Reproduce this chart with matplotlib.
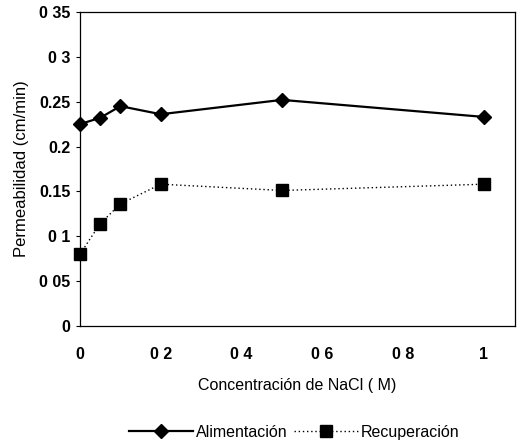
import matplotlib.pyplot as plt

plt.rcParams["font.family"] = ["Liberation Sans", "DejaVu Sans"]

nacl = [0, 0.05, 0.1, 0.2, 0.5, 1.0]
alimentacion = [0.225, 0.232, 0.245, 0.236, 0.252, 0.233]
recuperacion = [0.080, 0.114, 0.136, 0.158, 0.151, 0.158]

yticks = [0, 0.05, 0.1, 0.15, 0.2, 0.25, 0.3, 0.35]
ytick_labels = ["0", "0 05", "0 1", "0.15", "0.2", "0.25", "0 3", "0 35"]
xticks = [0, 0.2, 0.4, 0.6, 0.8, 1.0]
xtick_labels = ["0", "0 2", "0 4", "0 6", "0 8", "1"]

fig = plt.figure(figsize=(5.17, 4.44), dpi=100)
ax = fig.add_axes([0.1547, 0.266, 0.8415, 0.707])

ax.plot(nacl, alimentacion, color="black", lw=1.6, marker="D", ms=7.5,
        label="Alimentación", clip_on=False, zorder=3)
ax.plot(nacl, recuperacion, color="black", lw=1.0, ls=(0, (1, 2)),
        marker="s", ms=9, label="Recuperación", clip_on=False, zorder=3)

ax.set_xlim(0, 1.077)
ax.set_ylim(0, 0.35)
ax.set_yticks(yticks)
ax.set_yticklabels(ytick_labels, fontsize=11.5, fontweight="bold")
ax.set_xticks(xticks)
ax.set_xticklabels(xtick_labels, fontsize=11.5, fontweight="bold")
ax.tick_params(axis="y", direction="out", length=3, width=0.8, pad=4)
ax.tick_params(axis="x", length=0, pad=15)
for s in ax.spines.values():
    s.set_linewidth(0.9)

ax.set_xlabel("Concentración de NaCl ( M)", fontsize=11.5, labelpad=12)
ax.set_ylabel("Permeabilidad (cm/min)", fontsize=12, labelpad=7)

fig.legend(loc="center", bbox_to_anchor=(0.569, 0.027), ncol=2, frameon=False,
           fontsize=11.5, handlelength=4, handletextpad=0.2, columnspacing=0.4)

fig.savefig("out.png", dpi=100)
